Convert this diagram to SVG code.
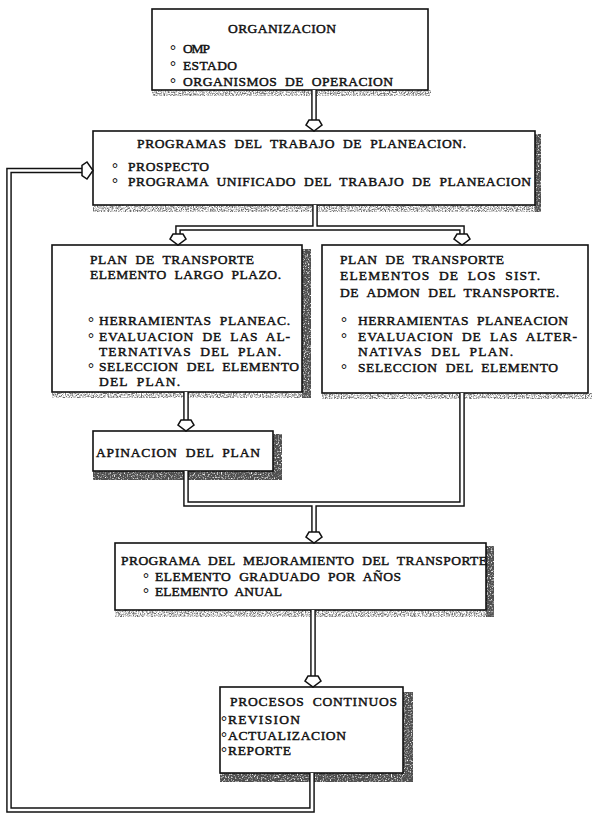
<svg xmlns="http://www.w3.org/2000/svg" width="592" height="816" viewBox="0 0 592 816">
  <style>
    .box { fill: #fff; stroke: #111; stroke-width: 1.6; }
    .t { font-family: "Liberation Serif", "DejaVu Serif", serif; font-size: 13.5px; fill: #111; stroke: #111; stroke-width: 0.45; word-spacing: 4px; }
    .bu { font-family: "Liberation Serif", "DejaVu Serif", serif; font-size: 15px; font-weight: bold; fill: #111; }
    .lk { fill: none; stroke: #111; stroke-width: 5.6; stroke-linejoin: miter; }
    .lw { fill: none; stroke: #fff; stroke-width: 2.7; stroke-linejoin: miter; }
    .ah { fill: #fff; stroke: #111; stroke-width: 1.5; stroke-linejoin: miter; }
    .shL { fill: #000; filter: url(#grainLight); }
    .shD { fill: #000; filter: url(#grainDark); }
  </style>
  <defs>
    <!-- speckled print shadow -->
    <filter id="grainLight" x="0" y="0" width="100%" height="100%" filterUnits="objectBoundingBox">
      <feTurbulence type="fractalNoise" baseFrequency="0.75" numOctaves="2" seed="4" result="n"/>
      <feColorMatrix in="n" type="matrix" values="0 0 0 0 0.15  0 0 0 0 0.15  0 0 0 0 0.15  -3.2 0 0 0 1.95" result="a"/>
      <feComposite in="a" in2="SourceGraphic" operator="in"/>
    </filter>
    <filter id="grainDark" x="0" y="0" width="100%" height="100%" filterUnits="objectBoundingBox">
      <feTurbulence type="fractalNoise" baseFrequency="0.7" numOctaves="2" seed="9" result="n"/>
      <feColorMatrix in="n" type="matrix" values="0 0 0 0 0.08  0 0 0 0 0.08  0 0 0 0 0.08  -3.2 0 0 0 2.6" result="a"/>
      <feComposite in="a" in2="SourceGraphic" operator="in"/>
    </filter>
    <path id="c1" d="M314,90 V121"/>
    <path id="c2" d="M315,205 V228"/>
    <path id="c3" d="M178,235 V228 H462 V235"/>
    <path id="c4" d="M186,392 V421"/>
    <path id="c5" d="M186,471 V504 H462 V393"/>
    <path id="c6" d="M314,504 V533"/>
    <path id="c7" d="M313,610 V677"/>
    <path id="c8" d="M312,773 V810 H9 V170.5 H83"/>
  </defs>

  <rect width="592" height="816" fill="#fff"/>

  <!-- shadows -->
  <g id="shadows">
    <rect class="shL" x="152" y="90" width="279" height="6"/>
    <rect class="shD" x="535" y="134" width="6" height="78"/>
    <rect class="shL" x="93" y="205" width="448" height="7"/>
    <rect class="shD" x="302" y="249" width="9" height="149"/>
    <rect class="shL" x="52" y="392" width="259" height="6"/>
    <rect class="shL" x="322" y="393" width="270" height="6"/>
    <rect class="shD" x="273" y="434" width="9" height="46"/>
    <rect class="shD" x="93" y="471" width="189" height="9"/>
    <rect class="shD" x="486" y="546" width="8" height="71"/>
    <rect class="shL" x="115" y="610" width="379" height="7"/>
    <rect class="shD" x="403" y="692" width="10" height="90"/>
    <rect class="shD" x="220" y="773" width="193" height="9"/>
  </g>

  <g id="organizacion">
    <rect class="box" x="152" y="9" width="276" height="81"/>
    <text class="t" x="228" y="33" textLength="108">ORGANIZACION</text>
    <text class="bu" x="170" y="55">°</text>
    <text class="t" x="183" y="53" textLength="27">OMP</text>
    <text class="bu" x="170" y="71">°</text>
    <text class="t" x="183" y="70" textLength="54">ESTADO</text>
    <text class="bu" x="170" y="88">°</text>
    <text class="t" x="183" y="86" textLength="210">ORGANISMOS DE OPERACION</text>
  </g>

  <g id="programas-trabajo">
    <rect class="box" x="93" y="131" width="442" height="74"/>
    <text class="t" x="137" y="148" textLength="329">PROGRAMAS DEL TRABAJO DE PLANEACION.</text>
    <text class="bu" x="112" y="173">°</text>
    <text class="t" x="128" y="171" textLength="81">PROSPECTO</text>
    <text class="bu" x="112" y="188">°</text>
    <text class="t" x="128" y="186" textLength="403">PROGRAMA UNIFICADO DEL TRABAJO DE PLANEACION</text>
  </g>

  <g id="plan-largo-plazo">
    <rect class="box" x="52" y="245" width="250" height="147"/>
    <text class="t" x="90" y="264" textLength="164">PLAN DE TRANSPORTE</text>
    <text class="t" x="90" y="279" textLength="191">ELEMENTO LARGO PLAZO.</text>
    <text class="bu" x="88" y="327">°</text>
    <text class="t" x="99" y="325" textLength="191">HERRAMIENTAS PLANEAC.</text>
    <text class="bu" x="88" y="343">°</text>
    <text class="t" x="99" y="341" textLength="191">EVALUACION DE LAS AL-</text>
    <text class="t" x="99" y="356" textLength="182">TERNATIVAS DEL PLAN.</text>
    <text class="bu" x="88" y="373">°</text>
    <text class="t" x="99" y="371" textLength="200">SELECCION DEL ELEMENTO</text>
    <text class="t" x="99" y="386" textLength="81">DEL PLAN.</text>
  </g>

  <g id="plan-admon">
    <rect class="box" x="322" y="245" width="266" height="148"/>
    <text class="t" x="340" y="264" textLength="164">PLAN DE TRANSPORTE</text>
    <text class="t" x="340" y="280" textLength="200">ELEMENTOS DE LOS SIST.</text>
    <text class="t" x="340" y="297" textLength="219">DE ADMON DEL TRANSPORTE.</text>
    <text class="bu" x="341" y="327">°</text>
    <text class="t" x="358" y="325" textLength="210">HERRAMIENTAS PLANEACION</text>
    <text class="bu" x="341" y="343">°</text>
    <text class="t" x="358" y="341" textLength="219">EVALUACION DE LAS ALTER-</text>
    <text class="t" x="358" y="356" textLength="155">NATIVAS DEL PLAN.</text>
    <text class="bu" x="341" y="374">°</text>
    <text class="t" x="358" y="372" textLength="200">SELECCION DEL ELEMENTO</text>
  </g>

  <g id="afinacion">
    <rect class="box" x="93" y="431" width="180" height="40"/>
    <text class="t" x="96" y="457" textLength="164">APINACION DEL PLAN</text>
  </g>

  <g id="programa-mejoramiento">
    <rect class="box" x="115" y="543" width="371" height="67"/>
    <text class="t" x="121" y="565" textLength="366">PROGRAMA DEL MEJORAMIENTO DEL TRANSPORTE</text>
    <text class="bu" x="143" y="583">°</text>
    <text class="t" x="155" y="581" textLength="246">ELEMENTO GRADUADO POR AÑOS</text>
    <text class="bu" x="143" y="598">°</text>
    <text class="t" x="155" y="596" textLength="127">ELEMENTO ANUAL</text>
  </g>

  <g id="procesos-continuos">
    <rect class="box" x="220" y="687" width="183" height="86"/>
    <text class="t" x="230" y="706" textLength="167">PROCESOS CONTINUOS</text>
    <text class="bu" x="221" y="726">°</text>
    <text class="t" x="228" y="724" textLength="72">REVISION</text>
    <text class="bu" x="221" y="742">°</text>
    <text class="t" x="228" y="740" textLength="118">ACTUALIZACION</text>
    <text class="bu" x="221" y="757">°</text>
    <text class="t" x="228" y="755" textLength="63">REPORTE</text>
  </g>

  <g id="connectors">
    <g class="lk">
      <use href="#c1"/><use href="#c2"/><use href="#c3"/><use href="#c4"/>
      <use href="#c5"/><use href="#c6"/><use href="#c7"/><use href="#c8"/>
    </g>
    <g class="lw">
      <use href="#c1"/><use href="#c2"/><use href="#c3"/><use href="#c4"/>
      <use href="#c5"/><use href="#c6"/><use href="#c7"/><use href="#c8"/>
    </g>
    <g class="ah">
      <polygon points="309,120 319,120 322,125 314,131 306,125"/>
      <polygon points="173,234 183,234 186,239 178,245 170,239"/>
      <polygon points="457,234 467,234 470,239 462,245 454,239"/>
      <polygon points="181,420 191,420 194,425 186,431 178,425"/>
      <polygon points="309,532 319,532 322,537 314,543 306,537"/>
      <polygon points="308,676 318,676 321,681 313,687 305,681"/>
      <polygon points="82,175.5 82,165.5 87,162 93,170.5 87,179"/>
    </g>
  </g>
</svg>
